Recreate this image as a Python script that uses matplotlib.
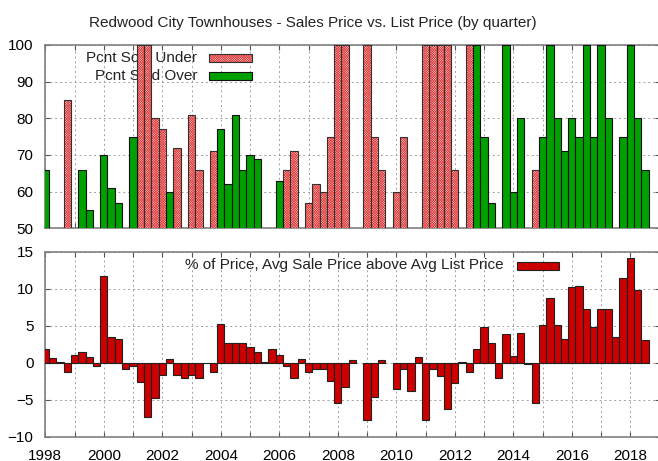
import numpy as np
import matplotlib
matplotlib.use('Agg')
import matplotlib.pyplot as plt
from matplotlib.patches import Rectangle
from matplotlib.ticker import MultipleLocator

plt.rcParams['font.family'] = ['Liberation Sans', 'DejaVu Sans']
plt.rcParams['font.size'] = 11
plt.rcParams['hatch.color'] = '#e03838'
plt.rcParams['hatch.linewidth'] = 0.45

W, H = 658, 461
first_year = 1998

# Pcnt sold under asking (None = below 50, not visible)
pct_under = [
    None, None, None, 85,      # 1998
    None, None, None, None,    # 1999
    None, None, None, None,    # 2000
    None, 100, 100, 80,        # 2001
    77, None, 72, None,        # 2002
    81, 66, None, 71,          # 2003
    None, None, None, None,    # 2004
    None, None, None, None,    # 2005
    None, 66, 71, None,        # 2006
    57, 62, 60, 75,            # 2007
    100, 100, None, None,      # 2008
    100, 75, 66, None,         # 2009
    60, 75, None, None,        # 2010
    100, 100, 100, 100,        # 2011
    66, None, 100, None,       # 2012
    None, None, None, None,    # 2013
    None, None, None, 66,      # 2014
    None, None, None, None,    # 2015
    None, None, None, None,    # 2016
    None, None, None, None,    # 2017
    None, None, None,          # 2018
]

# Pcnt sold over asking
pct_over = [
    66, None, None, None,      # 1998
    None, 66, 55, None,        # 1999
    70, 61, 57, None,          # 2000
    75, None, None, None,      # 2001
    None, 60, None, None,      # 2002
    None, None, None, None,    # 2003
    77, 62, 81, 66,            # 2004
    70, 69, None, None,        # 2005
    63, None, None, None,      # 2006
    None, None, None, None,    # 2007
    None, None, None, None,    # 2008
    None, None, None, None,    # 2009
    None, None, None, None,    # 2010
    None, None, None, None,    # 2011
    None, None, None, 100,     # 2012
    75, 57, None, 100,         # 2013
    60, 80, None, None,        # 2014
    75, 100, 80, 71,           # 2015
    80, 75, 100, 75,           # 2016
    100, 80, None, 75,         # 2017
    100, 80, 66,               # 2018
]

# % avg sale price above avg list price
pct_above = [
    1.9, 0.6, 0.1, -1.2,       # 1998
    1.0, 1.4, 0.8, -0.4,       # 1999
    11.7, 3.5, 3.2, -0.8,      # 2000
    -0.5, -2.6, -7.3, -4.8,    # 2001
    -1.7, 0.5, -1.7, -2.1,     # 2002
    -1.7, -2.1, -0.1, -1.3,    # 2003
    5.2, 2.6, 2.7, 2.7,        # 2004
    2.1, 1.4, 0.1, 1.8,        # 2005
    1.0, -0.5, -2.1, 0.5,      # 2006
    -1.2, -0.9, -0.9, -2.5,    # 2007
    -5.4, -3.3, 0.4, None,     # 2008
    -7.7, -4.6, 0.4, None,     # 2009
    -3.6, -0.9, -3.8, 0.8,     # 2010
    -7.7, -0.9, -1.8, -6.3,    # 2011
    -2.8, 0.1, -1.2, 1.8,      # 2012
    4.8, 2.7, -2.0, 3.9,       # 2013
    0.9, 4.0, -0.2, -5.4,      # 2014
    5.1, 8.8, 5.1, 3.2,        # 2015
    10.2, 10.4, 7.2, 4.8,      # 2016
    7.3, 7.3, 3.5, 11.5,       # 2017
    14.2, 9.8, 3.1,            # 2018
]

title = 'Redwood City Townhouses - Sales Price vs. List Price (by quarter)'
label_under = 'Pcnt Sold Under'
label_over = 'Pcnt Sold Over'
label_above = '% of Price, Avg Sale Price above Avg List Price'

quarter_x = first_year + 0.25 * np.arange(len(pct_above))


def present(vals):
    xs = [x for x, v in zip(quarter_x, vals) if v is not None]
    ys = [v for v in vals if v is not None]
    return xs, ys


def fx(px):
    return px / W


def fy(py):
    return 1 - py / H


pink_face = '#f8cccc'
pink_hatch = 'x' * 14
green = '#00a000'
red = '#cc0000'
grid_kw = dict(color='#a0a0a0', linestyle=(0, (2, 3)), linewidth=0.7)

fig = plt.figure(figsize=(W / 100, H / 100), dpi=100)
left = 45.3
right = left + 21 * 29.25
ax1 = fig.add_axes([fx(left), fy(228.3), fx(right - left), (228.3 - 45) / H])
ax2 = fig.add_axes([fx(left), fy(436.7), fx(right - left), (436.7 - 251.7) / H])

for ax in (ax1, ax2):
    ax.set_xlim(1998, 2019)
    ax.xaxis.set_major_locator(MultipleLocator(2))
    ax.xaxis.set_minor_locator(MultipleLocator(1))
    ax.tick_params(which='both', direction='in', top=True, right=True,
                   length=3.5, width=0.8, color='#555555', pad=8.5)
    ax.grid(True, which='both', axis='x', **grid_kw)
    ax.grid(True, which='major', axis='y', **grid_kw)
    ax.set_axisbelow(True)
    for s in ax.spines.values():
        s.set_color('#808080')
        s.set_linewidth(1.2)

# top panel
ax1.set_ylim(50, 100)
ax1.yaxis.set_major_locator(MultipleLocator(10))
ax1.tick_params(labelbottom=False)

xu, yu = present(pct_under)
ax1.bar(xu, yu, width=0.25, facecolor=pink_face, hatch=pink_hatch,
        linewidth=0, zorder=3)
ax1.bar(xu, yu, width=0.25, fill=False, edgecolor='#303030',
        linewidth=0.8, zorder=4)
xo, yo = present(pct_over)
ax1.bar(xo, yo, width=0.25, color=green, edgecolor='#101010',
        linewidth=0.8, zorder=4)

# legend (drawn under the bars)
ax1.text(fx(197), fy(57.5), label_under, transform=fig.transFigure,
         ha='right', va='center', zorder=1, color='#222222')
ax1.text(fx(197), fy(76), label_over, transform=fig.transFigure,
         ha='right', va='center', zorder=1, color='#222222')
ax1.add_patch(Rectangle((fx(209), fy(62)), fx(43), 8 / H, transform=fig.transFigure,
                        facecolor=pink_face, hatch=pink_hatch, linewidth=0,
                        clip_on=False, zorder=1))
ax1.add_patch(Rectangle((fx(209), fy(62)), fx(43), 8 / H, transform=fig.transFigure,
                        fill=False, edgecolor='#303030', linewidth=0.8,
                        clip_on=False, zorder=1))
ax1.add_patch(Rectangle((fx(209), fy(80.5)), fx(43), 8 / H, transform=fig.transFigure,
                        facecolor=green, edgecolor='#101010', linewidth=0.8,
                        clip_on=False, zorder=1))

# bottom panel
ax2.set_ylim(-10, 15)
ax2.yaxis.set_major_locator(MultipleLocator(5))
xa, ya = present(pct_above)
ax2.bar(xa, ya, width=0.25, color=red, edgecolor='#202020',
        linewidth=0.8, zorder=3)

ax2.text(fx(504), fy(264.5), label_above, transform=fig.transFigure,
         ha='right', va='center', zorder=1, color='#222222')
ax2.add_patch(Rectangle((fx(517), fy(269.5)), fx(42), 7.5 / H, transform=fig.transFigure,
                        facecolor=red, edgecolor='#202020', linewidth=0.8,
                        clip_on=False, zorder=1))

fig.text(fx(313), fy(23), title, ha='center', va='center', color='#222222')

fig.savefig('out.png', dpi=100)
